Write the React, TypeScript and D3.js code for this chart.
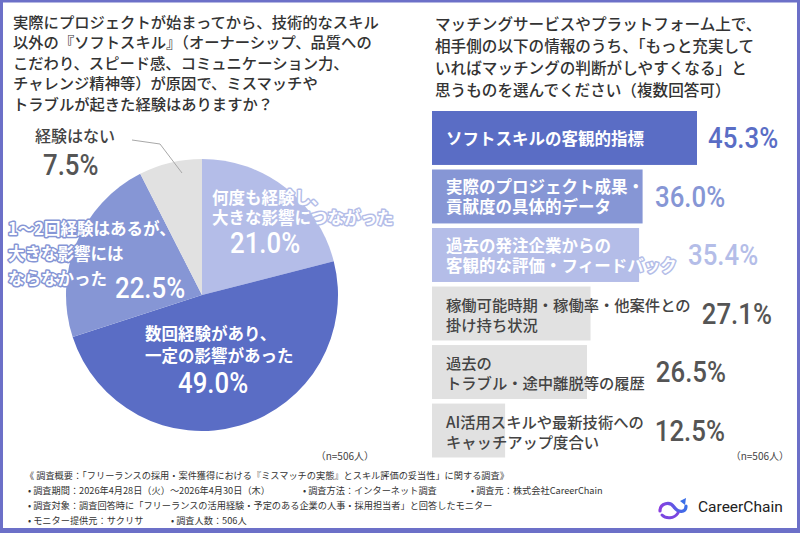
import React, { useMemo } from "react";
import * as d3 from "d3";

// ---------- data ----------
const leftTitle = [
  "実際にプロジェクトが始まってから、技術的なスキル",
  "以外の『ソフトスキル』（オーナーシップ、品質への",
  "こだわり、スピード感、コミュニケーション力、",
  "チャレンジ精神等）が原因で、ミスマッチや",
  "トラブルが起きた経験はありますか？",
];
const rightTitle = [
  "マッチングサービスやプラットフォーム上で、",
  "相手側の以下の情報のうち、「もっと充実して",
  "いればマッチングの判断がしやすくなる」と",
  "思うものを選んでください（複数回答可）",
];

const pieCategories = [
  ["何度も経験し、", "大きな影響につながった"],
  ["数回経験があり、", "一定の影響があった"],
  ["1〜2回経験はあるが、", "大きな影響には", "ならなかった"],
  ["経験はない"],
];
const pieValues = [21.0, 49.0, 22.5, 7.5];
const pieColors = ["#b4bde8", "#5a6dc5", "#8696d5", "#e1e1e1"];

const barCategories = [
  ["ソフトスキルの客観的指標"],
  ["実際のプロジェクト成果・", "貢献度の具体的データ"],
  ["過去の発注企業からの", "客観的な評価・フィードバック"],
  ["稼働可能時期・稼働率・他案件との", "掛け持ち状況"],
  ["過去の", "トラブル・途中離脱等の履歴"],
  ["AI活用スキルや最新技術への", "キャッチアップ度合い"],
];
const barValues = [45.3, 36.0, 35.4, 27.1, 26.5, 12.5];
const barColors = ["#5a6dc5", "#8696d5", "#b4bde8", "#e1e1e1", "#e1e1e1", "#e1e1e1"];

const sampleNote = "（n=506人）";
const footerLines = [
  [{ x: 25, t: "《 調査概要：「フリーランスの採用・案件獲得における『ミスマッチの実態』とスキル評価の妥当性」に関する調査》" }],
  [
    { x: 28, t: "• 調査期間：2026年4月28日（火）〜2026年4月30日（木）" },
    { x: 303, t: "• 調査方法：インターネット調査" },
    { x: 471, t: "• 調査元：株式会社CareerChain" },
  ],
  [{ x: 28, t: "• 調査対象：調査回答時に「フリーランスの活用経験・予定のある企業の人事・採用担当者」と回答したモニター" }],
  [
    { x: 28, t: "• モニター提供元：サクリサ" },
    { x: 171, t: "• 調査人数：506人" },
  ],
];

const JP = "'Noto Sans CJK JP', 'Noto Sans', sans-serif";
const NUM = "Roboto, 'Noto Sans', sans-serif";

function measure(text: string, font: string, size: number): number {
  try {
    const c = document.createElement("canvas").getContext("2d");
    if (c) {
      c.font = font;
      return c.measureText(text).width;
    }
  } catch (e) {}
  return text.length * size;
}

export default function App() {
  const W = 800, H = 533;
  // pie
  const cx = 202, cy = 295, R = 136;
  const arcs = useMemo(
    () => d3.pie<number>().sort(null).value((d) => d)(pieValues),
    []
  );
  const arcGen = d3.arc<d3.PieArcDatum<number>>().innerRadius(0).outerRadius(R);

  // bars
  const x0 = 432;
  const xScale = d3.scaleLinear().domain([0, 45.3]).range([0, 265]);
  const yScale = d3
    .scaleBand<number>()
    .domain(barValues.map((_, i) => i))
    .range([111, 457.5])
    .paddingInner(0.078)
    .paddingOuter(0);

  const labelX = x0 + 14;
  const pctLabels = barValues.map((v, i) => {
    const blue = i < 3;
    const size = blue ? 16.5 : 15.3;
    const font = `${blue ? 700 : 500} ${size}px ${JP}`;
    const tw = Math.max(...barCategories[i].map((l) => measure(l, font, size)));
    const end = Math.max(x0 + xScale(v), labelX + tw);
    return { x: end + 11, blue, size };
  });

  const pieLabelLayout = [
    { lines: { dx: 10, dy: [-98, -78] }, val: { dx: 28, dy: -52 }, color: "#fff" },
    { lines: { dx: -57, dy: [38, 60] }, val: { dx: -24, dy: 88 }, color: "#fff" },
    { lines: { dx: -194, dy: [-67, -42, -17] }, val: { dx: -87, dy: -7 }, color: "#fff" },
    { lines: { dx: -167, dy: [-160] }, val: { dx: -159, dy: -130 }, color: "#555" },
  ];

  const leader = d3.line()([
    [cx - 70, cy - 155],
    [cx - 42, cy - 151],
    [cx - 20, cy - 122],
  ]);

  return (
    <div style={{ position: "absolute", left: 0, top: 0 }}>
      <svg width={W} height={H} style={{ display: "block", background: "#fff" }}>
        <rect x={0} y={0} width={W} height={H} fill="#fff" />
        {/* titles */}
        {leftTitle.map((t, i) => (
          <text key={"lt" + i} x={13} y={21 + i * 20.4} dominantBaseline="central"
            fontFamily={JP} fontSize={15.3} fontWeight={500} fill="#333">{t}</text>
        ))}
        {rightTitle.map((t, i) => (
          <text key={"rt" + i} x={435} y={23 + i * 22} dominantBaseline="central"
            fontFamily={JP} fontSize={15.6} fontWeight={500} fill="#333">{t}</text>
        ))}

        {/* pie */}
        <g transform={`translate(${cx},${cy})`}>
          {arcs.map((a, i) => (
            <path key={"s" + i} d={arcGen(a) || ""} fill={pieColors[i]} />
          ))}
        </g>
        <path d={leader || ""} fill="none" stroke="#a8a8a8" strokeWidth={1} />
        {pieLabelLayout.map((L, i) => (
          <g key={"pl" + i}>
            {pieCategories[i].map((t, j) => (
              <text key={j} x={cx + L.lines.dx} y={cy + L.lines.dy[j]} dominantBaseline="central"
                fontFamily={JP} fontSize={i === 3 ? 16 : 16.5} fontWeight={i === 3 ? 500 : 700}
                fill={i === 3 ? "#444" : "#fff"}
                stroke={i === 3 ? "none" : pieColors[i]} strokeWidth={3}
                strokeLinejoin="round" style={{ paintOrder: "stroke" }}>{t}</text>
            ))}
            <text transform={`translate(${cx + L.val.dx},${cy + L.val.dy}) scale(0.86,1)`}
              dominantBaseline="central" fontFamily={NUM} fontSize={30} fontWeight={500}
              fill={L.color}>{pieValues[i].toFixed(1)}%</text>
          </g>
        ))}

        {/* bars */}
        {barValues.map((v, i) => {
          const y = yScale(i) as number;
          const bh = yScale.bandwidth();
          const p = pctLabels[i];
          const lines = barCategories[i];
          const lh = 20;
          const startY = y + bh / 2 - ((lines.length - 1) * lh) / 2;
          return (
            <g key={"b" + i}>
              <rect x={x0} y={y} width={xScale(v)} height={bh} fill={barColors[i]} />
              {lines.map((t, j) => (
                <text key={j} x={labelX} y={startY + j * lh} dominantBaseline="central"
                  fontFamily={JP} fontSize={p.size} fontWeight={p.blue ? 700 : 500}
                  fill={p.blue ? "#fff" : "#444"}
                  stroke={p.blue ? barColors[i] : "none"} strokeWidth={3}
                  strokeLinejoin="round" style={{ paintOrder: "stroke" }}>{t}</text>
              ))}
              <text transform={`translate(${p.x},${y + bh / 2}) scale(0.86,1)`}
                dominantBaseline="central" fontFamily={NUM} fontSize={30} fontWeight={500}
                fill={p.blue ? barColors[i] : "#555"}>{v.toFixed(1)}%</text>
            </g>
          );
        })}

        {/* sample notes */}
        <text x={374} y={455} textAnchor="end" dominantBaseline="central"
          fontFamily={JP} fontSize={10} fill="#444">{sampleNote}</text>
        <text x={789} y={455} textAnchor="end" dominantBaseline="central"
          fontFamily={JP} fontSize={10} fill="#444">{sampleNote}</text>

        {/* footer */}
        {footerLines.map((row, i) =>
          row.map((s, j) => (
            <text key={`f${i}-${j}`} x={s.x} y={475 + i * 15} dominantBaseline="central"
              fontFamily={JP} fontSize={9.2} fill="#333">{s.t}</text>
          ))
        )}

        {/* logo */}
        <g transform="translate(658,497)">
          <defs>
            <linearGradient id="lg" x1="0" y1="0" x2="1" y2="0">
              <stop offset="0" stopColor="#8a3fe0" />
              <stop offset="1" stopColor="#3a6ee8" />
            </linearGradient>
          </defs>
          <path d="M2,14 C2,6 12,4 16,10 C20,16 28,16 28,9" fill="none" stroke="url(#lg)" strokeWidth={3.2} strokeLinecap="round" />
          <path d="M4,18 C8,22 16,22 20,16" fill="none" stroke="#7a46e0" strokeWidth={3} strokeLinecap="round" />
          <path d="M22,4 L28,1 L27,8 Z" fill="#3a6ee8" />
        </g>
        <text x={698} y={507} dominantBaseline="central" fontFamily={NUM} fontSize={15.5}
          fill="#222">CareerChain</text>

        {/* frame */}
        <rect x={0} y={0} width={3} height={H} fill="#6c70c8" />
        <rect x={0} y={0} width={W} height={2.5} fill="#6c70c8" />
        <rect x={W - 3} y={0} width={3} height={H} fill="#6c70c8" />
        <rect x={0} y={H - 5} width={W} height={5} fill="#6c70c8" />
      </svg>
    </div>
  );
}
